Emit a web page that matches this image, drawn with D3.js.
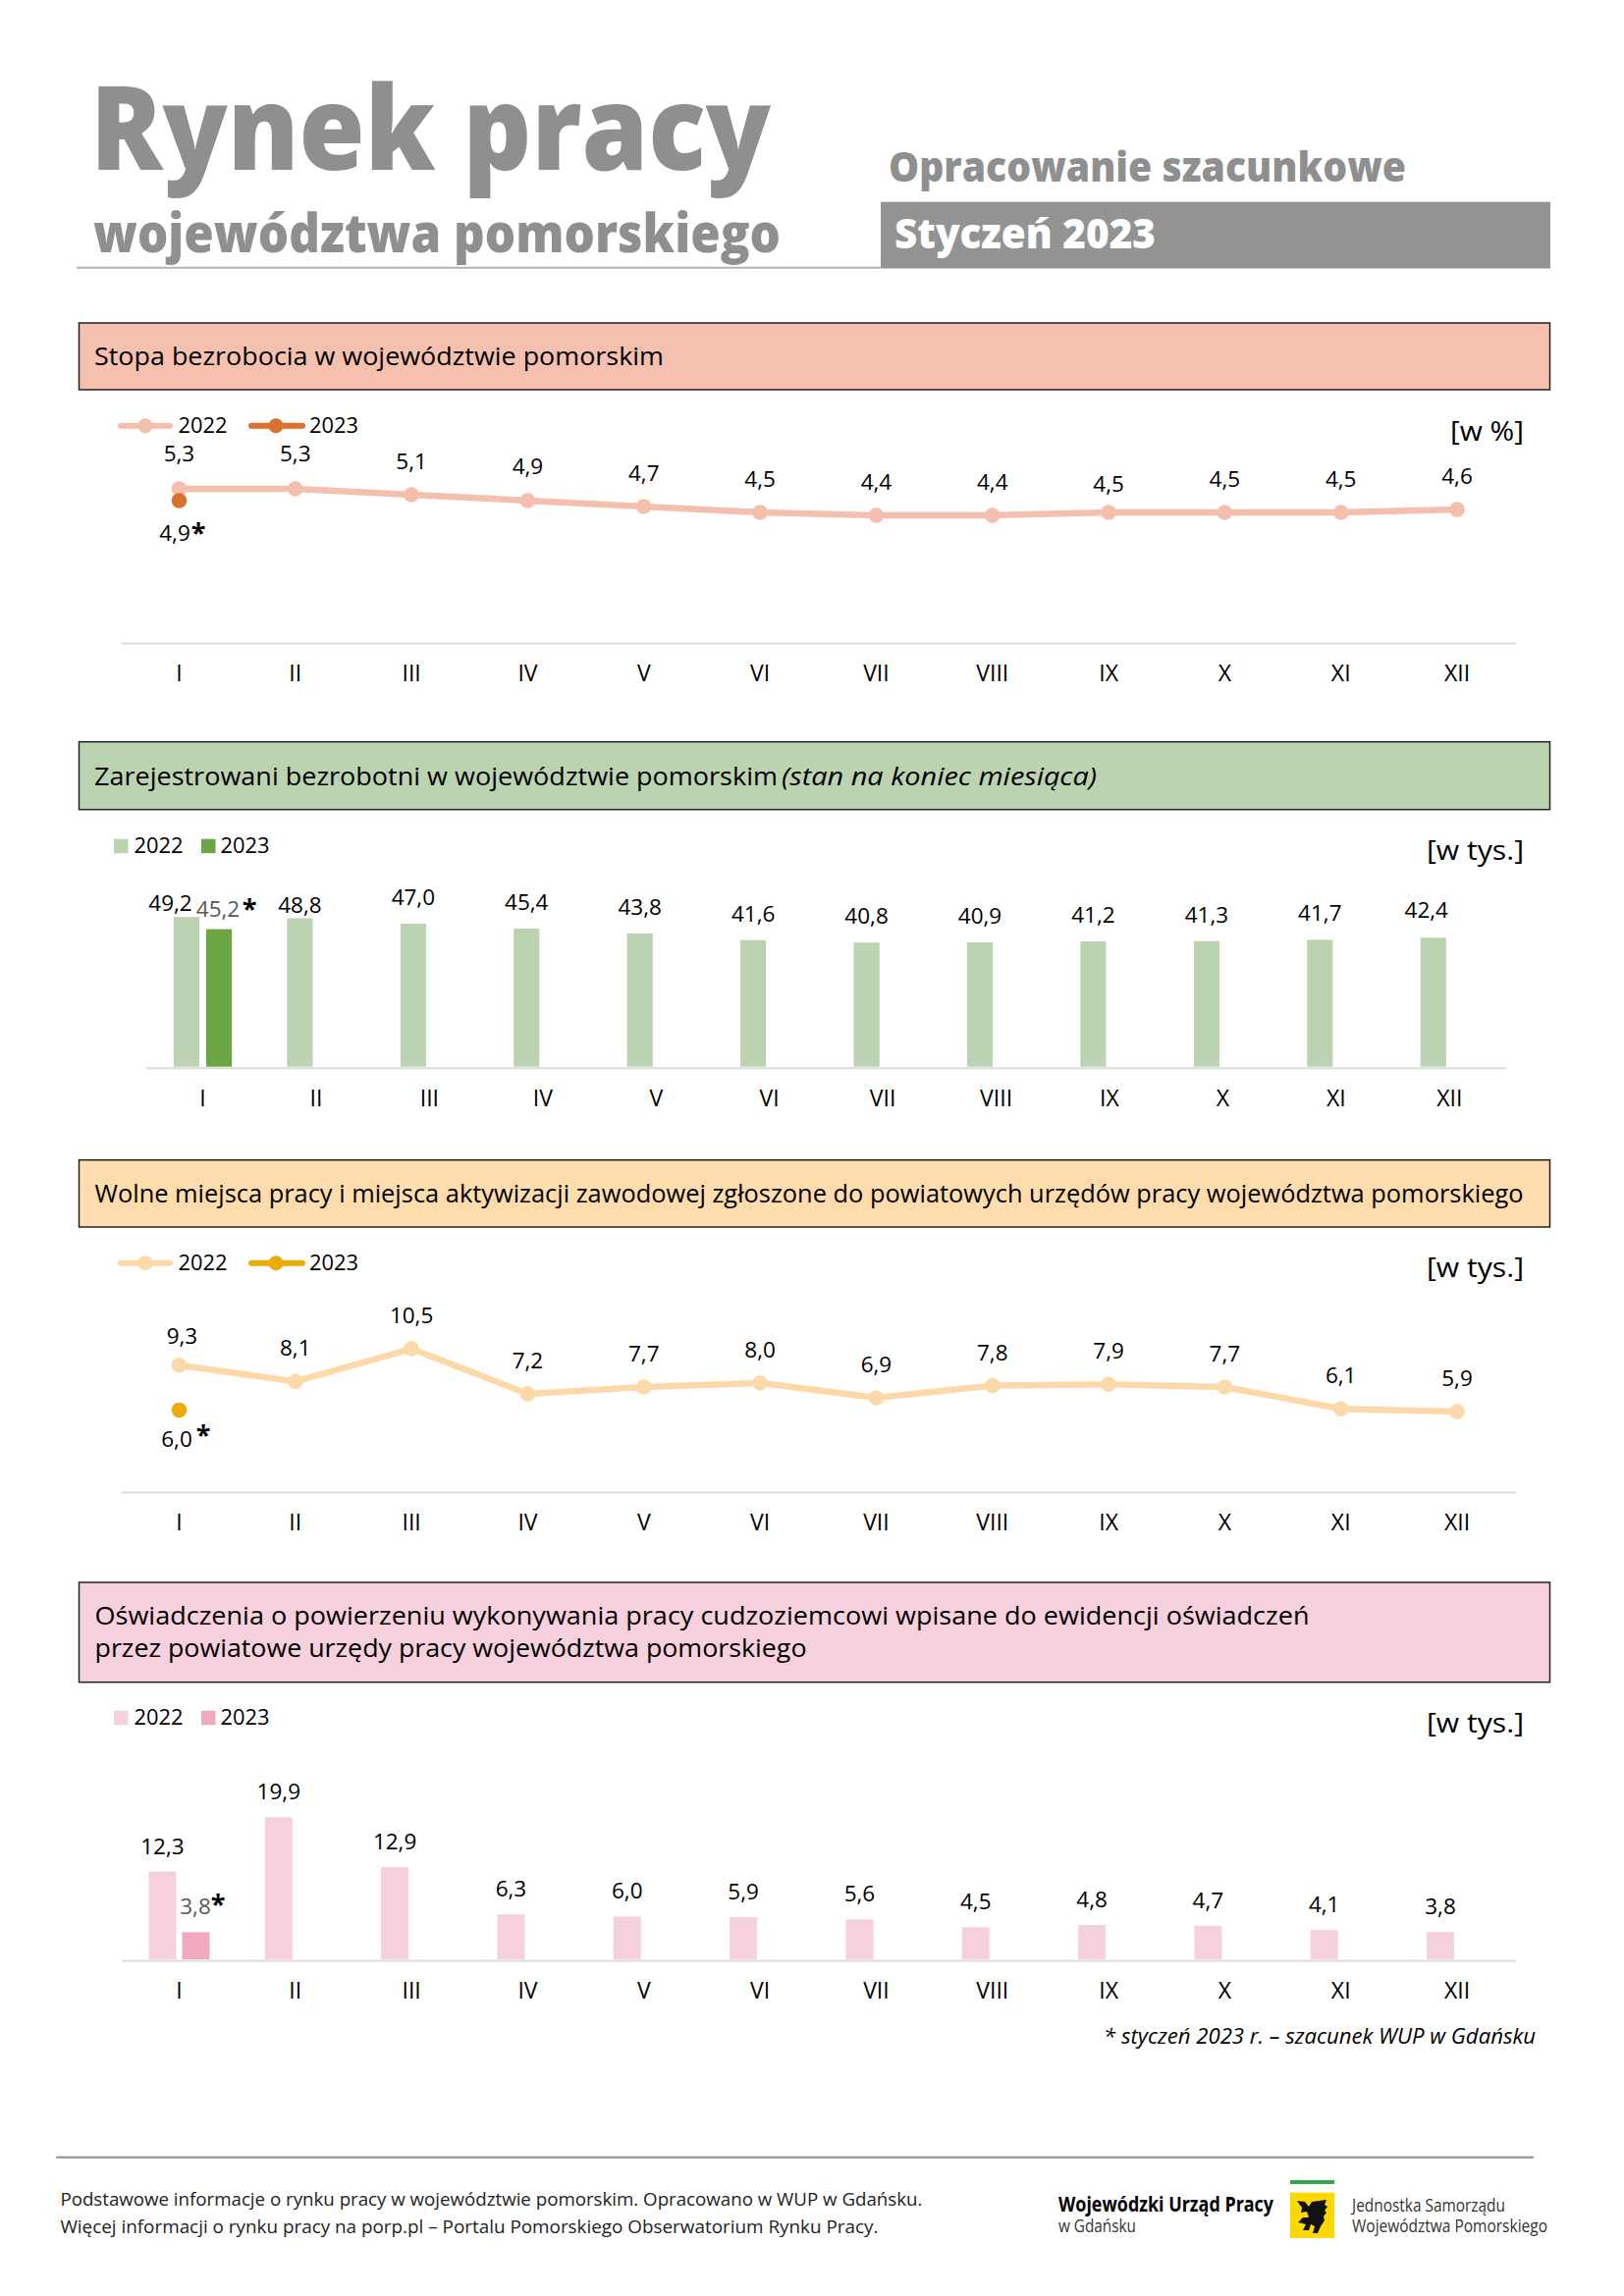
<!DOCTYPE html>
<html lang="pl">
<head>
<meta charset="utf-8">
<title>Rynek pracy województwa pomorskiego</title>
<script src="https://cdn.jsdelivr.net/npm/d3@7"></script>
<style>
html,body{margin:0;padding:0;background:#fff}
svg{display:block}
text{font-family:"Open Sans","Noto Sans",sans-serif}
</style>
</head>
<body>
<svg id="page" width="1654" height="2339" viewBox="0 0 1654 2339"></svg>
<script>
const months = ["I","II","III","IV","V","VI","VII","VIII","IX","X","XI","XII"];
const seriesNames = ["2022","2023"];
const unemploymentRate2022 = [5.3,5.3,5.1,4.9,4.7,4.5,4.4,4.4,4.5,4.5,4.5,4.6];
const unemploymentRate2023 = [4.9];
const registered2022 = [49.2,48.8,47.0,45.4,43.8,41.6,40.8,40.9,41.2,41.3,41.7,42.4];
const registered2023 = [45.2];
const vacancies2022 = [9.3,8.1,10.5,7.2,7.7,8.0,6.9,7.8,7.9,7.7,6.1,5.9];
const vacancies2023 = [6.0];
const declarations2022 = [12.3,19.9,12.9,6.3,6.0,5.9,5.6,4.5,4.8,4.7,4.1,3.8];
const declarations2023 = [3.8];

const svg = d3.select("#page");
svg.append("rect").attr("width",1654).attr("height",2339).attr("fill","#fff");
const fmt = v => v.toFixed(1).replace(".",",");
const INK = "#000";
const LABEL = 22.5;

function txt(s, x, y, size, o = {}) {
  const t = svg.append("text").attr("x",x).attr("y",y).attr("font-size",size)
    .attr("fill",o.fill||INK).attr("font-weight",o.weight||400)
    .attr("font-style",o.style||"normal").attr("text-anchor",o.anchor||"start").text(s);
  if (o.width) t.attr("textLength",o.width).attr("lengthAdjust","spacingAndGlyphs");
  return t;
}
function rect(x,y,w,h,fill,o={}) {
  return svg.append("rect").attr("x",x).attr("y",y).attr("width",w).attr("height",h)
    .attr("fill",fill).attr("stroke",o.stroke||"none").attr("stroke-width",o.sw||0);
}
function star(x, cy) {
  txt("*", x, cy + 14, 27, {anchor:"middle", weight:700, fill:"#000"});
}
function sectionBox(y0, y1, fill) {
  rect(80.5, y0, 1498, y1-y0, fill, {stroke:"#222", sw:1.5});
}
function axis(x, y, size) {
  const g = svg.append("g").attr("transform",`translate(0,${y})`)
    .call(d3.axisBottom(x).tickSize(0).tickPadding(size));
  g.select(".domain").attr("stroke","#dcdcdc").attr("stroke-width",2);
  g.selectAll("text").attr("font-size",23).attr("fill",INK)
    .attr("font-family",'"Open Sans","Noto Sans",sans-serif').attr("dy",0);
}
function lineLegend(y, c22, c23) {
  [[120,176,148,181.5,c22,0],[253,311,281,315,c23,1]].forEach(([a,b,m,t,c,i]) => {
    svg.append("line").attr("x1",a+3).attr("x2",b-3).attr("y1",y).attr("y2",y)
      .attr("stroke",c).attr("stroke-width",6).attr("stroke-linecap","round");
    svg.append("circle").attr("cx",m).attr("cy",y).attr("r",7.5).attr("fill",c);
    txt(seriesNames[i], t, y+7.5, 22.5, {width:50});
  });
}
function barLegend(y, c22, c23) {
  [[116,136.5,c22,0],[205,224.5,c23,1]].forEach(([a,t,c,i]) => {
    rect(a, y, 14.5, 14.5, c);
    txt(seriesNames[i], t, y+14.5, 22.5, {width:50});
  });
}
function lineChart(o) {
  const x = d3.scaleBand().domain(months).range([123.3,1543.2]);
  const y = d3.scaleLinear().domain(o.domain).range(o.range);
  const cx = m => x(m)+x.bandwidth()/2;
  const line = d3.line().x((d,i)=>cx(months[i])).y(d=>y(d));
  axis(x, o.axisY, o.pad);
  svg.append("path").datum(o.v22).attr("d",line).attr("fill","none")
    .attr("stroke",o.c22).attr("stroke-width",6.5).attr("stroke-linejoin","round");
  svg.selectAll(null).data(o.v22).join("circle").attr("cx",(d,i)=>cx(months[i]))
    .attr("cy",d=>y(d)).attr("r",7.8).attr("fill",o.c22);
  svg.selectAll(null).data(o.v23).join("circle").attr("cx",(d,i)=>cx(months[i]))
    .attr("cy",d=>y(d)).attr("r",7.8).attr("fill",o.c23);
  o.v22.forEach((v,i)=>{
    const n = (o.nudge||{})[months[i]]||[0,0];
    txt(fmt(v), cx(months[i])+n[0], y(v)-26+n[1], LABEL, {anchor:"middle"});
  });
  lineLegend(o.legendY, o.c22, o.c23);
  return {cx, y};
}
function barChart(o) {
  const x = d3.scaleBand().domain(months).range(o.xr);
  const s = d3.scaleBand().domain(seriesNames).range(o.sr).paddingInner(o.gap);
  const y = d3.scaleLinear().domain(o.domain).range(o.range);
  const cx = m => x(m)+x.bandwidth()/2;
  const bars = (vals,name,c) => svg.selectAll(null).data(vals).join("rect")
    .attr("x",(d,i)=>cx(months[i])+s(name)).attr("width",s.bandwidth())
    .attr("y",d=>y(d)).attr("height",d=>y(0)-y(d)).attr("fill",c);
  bars(o.v22,"2022",o.c22); bars(o.v23,"2023",o.c23);
  axis(x, o.axisY, o.pad);
  o.v22.forEach((v,i)=>{
    const n = (o.nudge||{})[months[i]]||[0,0];
    txt(fmt(v), cx(months[i])+s("2022")+s.bandwidth()/2+n[0], y(v)-o.lift+n[1], LABEL, {anchor:"middle"});
  });
  barLegend(o.legendY, o.c22, o.c23);
  return {cx, s, y};
}

/* header */
txt("Rynek pracy", 92, 172.7, 119, {weight:800, fill:"#8f8f8f", width:693});
txt("województwa pomorskiego", 95, 257, 55, {weight:800, fill:"#8f8f8f", width:700});
txt("Opracowanie szacunkowe", 905, 185, 42, {weight:800, fill:"#8f8f8f", width:527});
rect(78, 271.7, 1501, 2, "#b5b5b5");
rect(897, 205.7, 682, 67.3, "#939393");
txt("Styczeń 2023", 911, 253, 42, {weight:800, fill:"#fff", width:266});

/* section 1 */
sectionBox(329, 397, "#f5c1ae");
txt("Stopa bezrobocia w województwie pomorskim", 96, 372, 26, {width:580});
txt("[w %]", 1477, 449, 28, {width:75});
lineChart({v22:unemploymentRate2022, v23:unemploymentRate2023,
  domain:[0,6], range:[656.5,477.1], axisY:655, c22:"#f4bfac", c23:"#d9722e", legendY:433.7, pad:39.3,
  nudge:{I:[0,-2.5], II:[0,-2.5], IV:[0,-1], IX:[0,5]}});
txt(fmt(unemploymentRate2023[0]), 178, 551, LABEL, {anchor:"middle"});
star(202, 538);

/* section 2 */
sectionBox(755.7, 824.7, "#bcd3b1");
txt("Zarejestrowani bezrobotni w województwie pomorskim ", 96, 800, 26, {width:696});
txt("(stan na koniec miesiąca)", 796, 800, 26, {style:"italic", width:321});
txt("[w tys.]", 1453, 876, 28, {width:99});
barChart({v22:registered2022, v23:registered2023, xr:[148.8,1534], sr:[-29.6,29.6], gap:0.21,
  domain:[0,60], range:[1086.7,900.7], axisY:1087.7, pad:39, lift:19, c22:"#bcd3b1", c23:"#6ba544", legendY:854.7,
  nudge:{I:[-16.5,13], II:[0,13.5], XII:[-7,-1]}});
txt(fmt(registered2023[0]), 222, 934, LABEL, {anchor:"middle", fill:"#595959"});
star(254, 921);

/* section 3 */
sectionBox(1181.7, 1250, "#fedcab");
txt("Wolne miejsca pracy i miejsca aktywizacji zawodowej zgłoszone do powiatowych urzędów pracy województwa pomorskiego", 96.5, 1225, 26, {width:1455});
txt("[w tys.]", 1453, 1300.5, 28, {width:99});
lineChart({v22:vacancies2022, v23:vacancies2023,
  domain:[0,12], range:[1520,1353.2], axisY:1520, c22:"#fdd9a9", c23:"#eaac09", legendY:1286.7, pad:39.3,
  nudge:{I:[3,4]}});
txt(fmt(vacancies2023[0]), 180, 1474, LABEL, {anchor:"middle"});
star(207, 1456.7);

/* section 4 */
sectionBox(1612, 1713.7, "#f6d0dc");
txt("Oświadczenia o powierzeniu wykonywania pracy cudzoziemcowi wpisane do ewidencji oświadczeń", 96.5, 1655, 26, {width:1237});
txt("przez powiatowe urzędy pracy województwa pomorskiego", 96.5, 1688.3, 26, {width:725});
txt("[w tys.]", 1453, 1764.5, 28, {width:99});
barChart({v22:declarations2022, v23:declarations2023, xr:[123.3,1543.2], sr:[-31,31], gap:0.176,
  domain:[0,25], range:[1996,1814.25], axisY:1997, pad:39, lift:18, c22:"#f6d0dc", c23:"#f0a9bd", legendY:1742.7});
txt(fmt(declarations2023[0]), 199, 1950, LABEL, {anchor:"middle", fill:"#595959"});
star(222, 1935);

txt("* styczeń 2023 r. – szacunek WUP w Gdańsku", 1124, 2081.7, 21.5, {style:"italic", width:440});

/* footer */
rect(57, 2196.7, 1505, 2, "#8c8c8c");
txt("Podstawowe informacje o rynku pracy w województwie pomorskim. Opracowano w WUP w Gdańsku.", 61.4, 2246.7, 17.5, {fill:"#222", width:878});
txt("Więcej informacji o rynku pracy na porp.pl – Portalu Pomorskiego Obserwatorium Rynku Pracy.", 61.4, 2275, 17.5, {fill:"#222", width:833});
txt("Wojewódzki Urząd Pracy", 1078, 2252.7, 21, {weight:700, width:219});
txt("w Gdańsku", 1078, 2274.3, 17.5, {fill:"#333", width:79});
rect(1314, 2221, 45, 4, "#2fa84f");
rect(1314, 2233.7, 45, 46.3, "#ffd800");
svg.append("path").attr("fill","#111")
  .attr("d","M1321 2242 L1329 2243 L1333 2248 L1336 2243 L1351 2241 L1349 2246 L1352 2248 L1349 2252 L1351 2254 L1348 2258 L1349 2262 L1345 2268 L1342 2275 L1337 2275 L1339 2268 L1335 2266 L1333 2272 L1327 2272 L1330 2266 L1322 2264 L1327 2259 L1333 2259 L1331 2253 L1325 2254 L1326 2249 Z");
txt("Jednostka Samorządu", 1377, 2252.7, 17.5, {fill:"#333", width:156});
txt("Województwa Pomorskiego", 1377, 2274.3, 17.5, {fill:"#333", width:199});
</script>
</body>
</html>
